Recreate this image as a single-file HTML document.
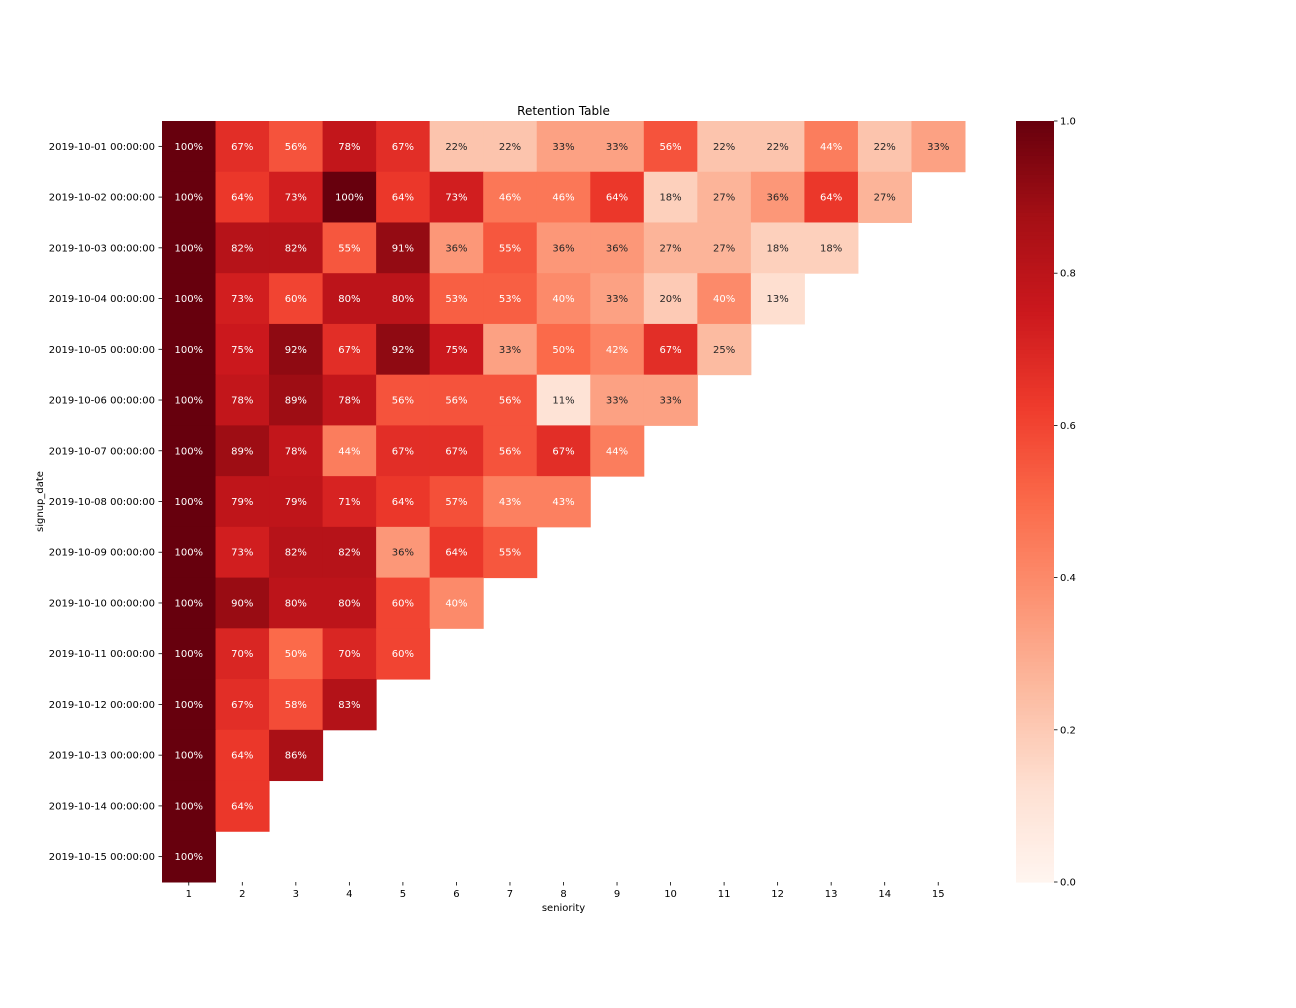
<!DOCTYPE html>
<html><head><meta charset="utf-8"><style>
body{margin:0;background:#fff;}
svg{display:block;font-family:"DejaVu Sans","Liberation Sans",sans-serif;}
</style></head><body>
<svg id="chart" width="1296" height="1008" viewBox="0 0 1296 1008" xmlns="http://www.w3.org/2000/svg">
<rect width="1296" height="1008" fill="#fff"/>
<text x="563.5" y="115" font-size="12" text-anchor="middle" fill="#000">Retention Table</text>
<text x="563.5" y="911" font-size="10" text-anchor="middle" fill="#000">seniority</text>
<text x="43" y="501.5" font-size="10" text-anchor="middle" fill="#000" transform="rotate(-90 43 501.5)">signup_date</text>
<g id="cells"></g><g id="xt"></g><g id="yt"></g><g id="cbar"></g>
</svg>
<script>
const rowLabels=["2019-10-01","2019-10-02","2019-10-03","2019-10-04","2019-10-05","2019-10-06","2019-10-07","2019-10-08","2019-10-09","2019-10-10","2019-10-11","2019-10-12","2019-10-13","2019-10-14","2019-10-15"];
const colLabels=[1,2,3,4,5,6,7,8,9,10,11,12,13,14,15];
const retention=[
[100,67,56,78,67,22,22,33,33,56,22,22,44,22,33],
[100,64,73,100,64,73,46,46,64,18,27,36,64,27],
[100,82,82,55,91,36,55,36,36,27,27,18,18],
[100,73,60,80,80,53,53,40,33,20,40,13],
[100,75,92,67,92,75,33,50,42,67,25],
[100,78,89,78,56,56,56,11,33,33],
[100,89,78,44,67,67,56,67,44],
[100,79,79,71,64,57,43,43],
[100,73,82,82,36,64,55],
[100,90,80,80,60,40],
[100,70,50,70,60],
[100,67,58,83],
[100,64,86],
[100,64],
[100]];
const cbTicks=[0,0.2,0.4,0.6,0.8,1.0];

const NS="http://www.w3.org/2000/svg";
const X0=162,X1=965,Y0=121,Y1=882;
const cw=(X1-X0)/colLabels.length, rh=(Y1-Y0)/rowLabels.length;
const xs=i=>X0+i*cw, ys=j=>Y0+j*rh;
const stops=[[0,[255,245,240]],[0.125,[254,224,210]],[0.25,[252,187,161]],[0.375,[252,146,114]],[0.5,[251,106,74]],[0.625,[239,59,44]],[0.75,[203,24,29]],[0.875,[165,15,21]],[1,[103,0,13]]];
function cmap(v){v=Math.max(0,Math.min(1,v));for(let k=1;k<stops.length;k++){if(v<=stops[k][0]){const a=stops[k-1],b=stops[k],t=(v-a[0])/(b[0]-a[0]);return a[1].map((c,i)=>Math.round(c+(b[1][i]-c)*t));}}return stops[8][1];}
function lum(c){const l=c.map(x=>{x/=255;return x<=0.03928?x/12.92:Math.pow((x+0.055)/1.055,2.4)});return 0.2126*l[0]+0.7152*l[1]+0.0722*l[2];}
function mk(tag,attrs,parent){const e=document.createElementNS(NS,tag);for(const k in attrs)e.setAttribute(k,attrs[k]);parent.appendChild(e);return e;}
const cells=document.getElementById('cells');
retention.forEach((row,j)=>row.forEach((v,i)=>{
  const c=cmap(v/100);
  const r=mk('rect',{x:xs(i),y:ys(j),width:cw+0.5,height:rh+0.5,fill:`rgb(${c})`},cells);
  
  
  const t=mk('text',{x:xs(i)+cw/2,y:ys(j)+rh/2+3.5,'font-size':10,'text-anchor':'middle',fill:lum(c)>0.408?'#262626':'#ffffff'},cells);
  t.textContent=v+'%';
  
  
}));
const xt=document.getElementById('xt');
colLabels.forEach((l,i)=>{
  const x=xs(i)+cw/2;
  mk('line',{x1:x,x2:x,y1:Y1,y2:Y1+3.5,stroke:'#000','stroke-width':0.8},xt);
  const t=mk('text',{x:x,y:Y1+15,'font-size':10,'text-anchor':'middle',fill:'#000'},xt);
  t.textContent=l;
  
  
});
const yt=document.getElementById('yt');
rowLabels.forEach((l,j)=>{
  const y=ys(j)+rh/2;
  mk('line',{x1:X0-3.5,x2:X0,y1:y,y2:y,stroke:'#000','stroke-width':0.8},yt);
  const t=mk('text',{x:X0-7,y:y+3.5,'font-size':10,'text-anchor':'end',fill:'#000'},yt);
  t.textContent=l+' 00:00:00';
  
  
});
const cb=document.getElementById('cbar');
const CX=1016,CW=38,N=200;
for(let k=0;k<N;k++){const v=k/N;const c=cmap(v+0.5/N);
  mk('rect',{x:CX,y:Y1-(k+1)*(Y1-Y0)/N,width:CW,height:(Y1-Y0)/N+0.6,fill:`rgb(${c})`},cb);}
cbTicks.forEach(v=>{
  const y=Y1-v*(Y1-Y0);
  mk('line',{x1:CX+CW,x2:CX+CW+3.5,y1:y,y2:y,stroke:'#000','stroke-width':0.8},cb);
  const t=mk('text',{x:CX+CW+6,y:y+3.5,'font-size':10,fill:'#000'},cb);
  t.textContent=v.toFixed(1);
  
  
});


</script>
</body></html>
